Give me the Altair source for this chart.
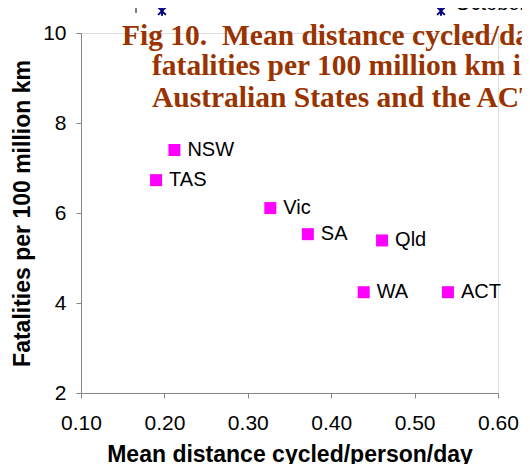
import altair as alt
import pandas as pd

states = ["NSW", "TAS", "Vic", "SA", "Qld", "WA", "ACT"]
distance = [0.212, 0.190, 0.327, 0.372, 0.461, 0.439, 0.540]
fatalities = [7.40, 6.73, 6.11, 5.53, 5.39, 4.24, 4.24]

x_ticks = [0.10, 0.20, 0.30, 0.40, 0.50, 0.60]
y_ticks = [2, 4, 6, 8, 10]

title_lines = [
    "Fig 10.\u00a0 Mean distance cycled/day vs",
    "fatalities per 100 million km in",
    "Australian States and the ACT",
]
title_x = [41, 71, 71]
title_y = [12, 42, 74]
x_title = "Mean distance cycled/person/day"
y_title = "Fatalities per 100 million km"
fragment_text = ["October"]

df = pd.DataFrame({"state": states, "dist": distance, "fatal": fatalities})
one = pd.DataFrame({"k": [0]})

W, H = 417, 360

xs = alt.Scale(domain=[0.10, 0.60], nice=False, zero=False, padding=0)
ys = alt.Scale(domain=[2, 10], nice=False, zero=False, padding=0)

axis_common = dict(
    domainColor="#868686",
    tickColor="#868686",
    tickSize=5,
    grid=False,
    labelFlush=False,
    labelColor="#000000",
    labelFont="Liberation Sans",
    labelFontSize=21,
    titleFont="Liberation Sans",
    titleFontWeight="bold",
    titleColor="#000000",
)

base = alt.Chart(df)

points = base.mark_point(shape="square", filled=True, size=144, color="#FF00FF", opacity=1).encode(
    x=alt.X("dist:Q", scale=xs,
            axis=alt.Axis(values=x_ticks, format=".2f", title=x_title,
                          labelPadding=14, titlePadding=10, titleFontSize=23, **axis_common)),
    y=alt.Y("fatal:Q", scale=ys,
            axis=alt.Axis(values=y_ticks, title=y_title,
                          labelPadding=10, titlePadding=8, titleFontSize=23, **axis_common)),
)

labels = base.mark_text(align="left", baseline="middle", dx=13, fontSize=20,
                        font="Liberation Sans", color="#000000").encode(
    x=alt.X("dist:Q", scale=xs),
    y=alt.Y("fatal:Q", scale=ys),
    text="state:N",
)

layers = [points, labels]

for line, px, py in zip(title_lines, title_x, title_y):
    tdf = pd.DataFrame({"line": [line]})
    layers.append(
        alt.Chart(tdf).mark_text(align="left", baseline="alphabetic", fontSize=29.5,
                                 font="Liberation Serif", fontWeight="bold",
                                 color="#993300").encode(
            x=alt.value(px), y=alt.value(py), text="line:N")
    )

# fragments of a neighbouring chart cut off at the top edge
star = "M-1,-1L1,1M-1,1L1,-1M0,-1.2L0,1.2"
for px in [81, 360]:
    layers.append(
        alt.Chart(one).mark_point(shape=star, size=60, color="#000080", strokeWidth=2,
                                  filled=False, opacity=1).encode(
            x=alt.value(px), y=alt.value(-22))
    )
layers.append(
    alt.Chart(pd.DataFrame({"t": fragment_text})).mark_text(
        align="left", baseline="alphabetic", fontSize=20,
        font="Liberation Sans", color="#000000").encode(
        x=alt.value(374), y=alt.value(-23), text="t:N")
)
layers.append(
    alt.Chart(one).mark_rule(color="#000000", strokeWidth=1).encode(
        x=alt.value(55), y=alt.value(-26), y2=alt.value(-20))
)

chart = alt.layer(*layers).properties(
    width=W, height=H,
    padding={"left": 73, "top": 25, "right": 24, "bottom": 71},
    autosize=alt.AutoSizeParams(type="none"),
).configure_view(stroke=None).configure(background="#ffffff")

chart.save("out.html", embed_options={"renderer": "svg", "actions": False})
